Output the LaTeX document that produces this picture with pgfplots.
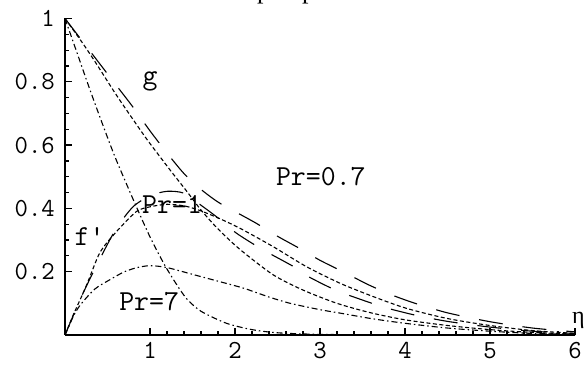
\documentclass[border=0pt]{standalone}
\usepackage{fontspec}
\setmainfont{Liberation Serif}
\usepackage{pgfplots}
\pgfplotsset{compat=1.18}
\begin{document}
\begin{tikzpicture}
\useasboundingbox (0,0) rectangle (586bp,365bp);
\node[anchor=base west, inner sep=0pt, font=\fontsize{26bp}{28bp}\selectfont] at (257bp,366.5bp) {p};
\node[anchor=base west, inner sep=0pt, font=\fontsize{26bp}{28bp}\selectfont] at (302bp,366.5bp) {p};
\begin{axis}[
  at={(65bp,30bp)}, anchor=south west,
  x=85bp, y=316.5bp,
  xmin=0, xmax=6, ymin=0, ymax=1,
  axis x line=bottom, axis y line=left,
  axis line style={-, line width=1.6bp},
  xtick={1,2,3,4,5,6}, xticklabels={1,2,3,4,5,6},
  ytick={0.2,0.4,0.6,0.8,1}, yticklabels={0.2,0.4,0.6,0.8,1},
  minor x tick num=4, minor y tick num=3,
  tick align=inside,
  major tick length=7bp, minor tick length=4bp,
  tick style={black, line width=1.2bp},
  tick label style={font=\ttfamily\fontsize{26bp}{28bp}\selectfont, inner sep=0pt},
  xticklabel style={yshift=-7bp},
  yticklabel style={xshift=-10bp},
  /pgf/number format/assume math mode=true,
  clip=false,
  every axis plot/.append style={black, line width=1.1bp, smooth, tension=0.45},
]
% Pr = 0.7 : g
\addplot[dash pattern=on 24bp off 20bp] coordinates {
(0,1) (0.2,0.93) (0.4,0.86) (0.6,0.79) (0.8,0.72) (1.0,0.645) (1.2,0.575)
(1.4,0.51) (1.6,0.46) (1.8,0.42) (2.0,0.39) (2.25,0.353) (2.5,0.312)
(2.75,0.275) (3.0,0.236) (3.3,0.196) (3.56,0.16) (3.84,0.127) (4.12,0.1)
(4.5,0.07) (5.0,0.042) (5.5,0.022) (6.0,0.01)};
% Pr = 1 : g
\addplot[dash pattern=on 4bp off 2.5bp] coordinates {
(0,1) (0.2,0.925) (0.35,0.865) (0.6,0.76) (0.88,0.65) (1.0,0.605) (1.24,0.52)
(1.43,0.455) (1.6,0.395) (1.8,0.335) (2.06,0.27) (2.45,0.19) (2.8,0.142)
(3.2,0.1) (3.6,0.07) (4.0,0.048) (4.5,0.03) (5.0,0.017) (5.5,0.008) (6.0,0.003)};
% Pr = 7 : g
\addplot[dash pattern=on 6bp off 3bp on 1.5bp off 3bp] coordinates {
(0,1) (0.15,0.885) (0.3,0.77) (0.45,0.66) (0.6,0.555) (0.84,0.405) (1.0,0.31)
(1.16,0.227) (1.3,0.165) (1.43,0.115) (1.6,0.075) (1.9,0.037) (2.2,0.017)
(2.5,0.007) (3.0,0.002) (4.0,0) (6.0,0)};
% Pr = 0.7 : f'
\addplot[dash pattern=on 24bp off 20bp] coordinates {
(0,0) (0.2,0.125) (0.4,0.235) (0.6,0.335) (0.8,0.405) (1.0,0.44) (1.2,0.454)
(1.4,0.448) (1.6,0.41) (1.8,0.37) (2.0,0.325) (2.2,0.29) (2.37,0.263)
(2.69,0.216) (2.86,0.185) (3.18,0.142) (3.43,0.117) (3.75,0.088) (4.1,0.064)
(4.5,0.043) (5.0,0.025) (5.5,0.012) (6.0,0.005)};
% Pr = 1 : f'
\addplot[dash pattern=on 4bp off 2.5bp] coordinates {
(0,0) (0.1,0.065) (0.25,0.155) (0.41,0.26) (0.6,0.325) (0.84,0.39) (1.0,0.405)
(1.2,0.413) (1.4,0.408) (1.57,0.395) (1.8,0.37) (2.06,0.337) (2.45,0.279)
(2.84,0.216) (3.24,0.163) (3.63,0.121) (4.02,0.084) (4.5,0.052) (5.0,0.03)
(5.5,0.014) (6.0,0.005)};
% Pr = 7 : f'
\addplot[dash pattern=on 6bp off 3bp on 1.5bp off 3bp] coordinates {
(0,0) (0.05,0.03) (0.1,0.06) (0.18,0.095) (0.35,0.145) (0.53,0.175) (0.7,0.2)
(0.85,0.213) (1.0,0.219) (1.2,0.213) (1.55,0.188) (1.8,0.17) (2.1,0.148)
(2.4,0.12) (2.65,0.1) (3.0,0.08) (3.24,0.069) (3.6,0.052) (4.0,0.037)
(4.5,0.022) (5.0,0.012) (5.5,0.005) (6.0,0.002)};
\begin{scope}[every node/.style={inner sep=0pt, font=\ttfamily\fontsize{29bp}{31bp}\selectfont}]
\node at (axis cs:1.0,0.80) {g};
\node at (axis cs:3.01,0.50) {Pr=0.7};
\node at (axis cs:1.26,0.414) {Pr=1};
\node at (axis cs:0.29,0.31) {f'};
\node at (axis cs:0.99,0.104) {Pr=7};
\node[font=\fontsize{24bp}{26bp}\selectfont] at (axis cs:6.04,0.045) {η};
\end{scope}
\end{axis}
\end{tikzpicture}
\end{document}
